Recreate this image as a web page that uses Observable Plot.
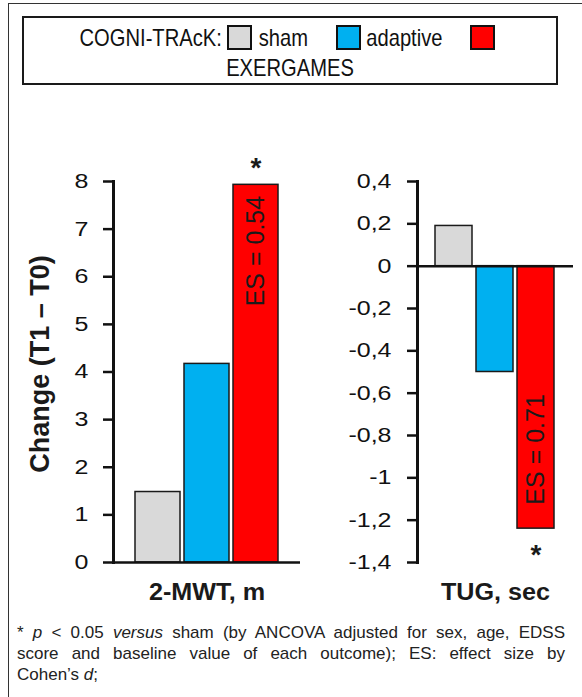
<!DOCTYPE html>
<html>
<head>
<meta charset="utf-8">
<script src="https://cdn.jsdelivr.net/npm/d3@7"></script>
<script src="https://cdn.jsdelivr.net/npm/@observablehq/plot@0.6"></script>
<style>
  html, body { margin: 0; padding: 0; background: #fff; }
  #page { position: relative; width: 582px; height: 697px; overflow: hidden; font-family: "Liberation Sans", Arial, sans-serif; color: #1a1a1a; }
  #frame { position: absolute; left: 8px; top: 3px; right: -4px; bottom: -4px; border-top: 1.5px solid #333; border-left: 1.5px solid #333; }
  #legend { position: absolute; left: 22px; top: 16px; width: 536px; height: 69px; box-sizing: border-box; border: 2px solid #1a1a1a; padding-top: 5px;
            font-family: "Liberation Sans", Arial, sans-serif; font-size: 24px; line-height: 30px; text-align: center; color: #111; white-space: nowrap; }
  #legend .t { display: inline-block; transform-origin: 50% 50%; }
  .sw { display: inline-block; width: 21px; height: 21px; border: 2px solid #111; vertical-align: -4px; }
  #p1 { position: absolute; left: 0; top: 140px; }
  #p2 { position: absolute; left: 300px; top: 140px; }
  #caption { position: absolute; left: 17px; top: 622px; width: 548px; font-size: 17px; line-height: 21px; color: #222; }
  #caption span { display: block; white-space: nowrap; text-align: justify; text-align-last: justify; }
  #caption span.last { text-align-last: left; }
  g[aria-label="x-axis label"] text { font-family: "Liberation Sans", Arial, sans-serif; font-weight: bold; font-size: 24px; fill: #1a1a1a; }
</style>
</head>
<body>
<div id="page">
  <div id="frame"></div>
  <div id="legend"></div>
  <div id="p1"></div>
  <div id="p2"></div>
  <div id="caption">
    <span>* <i>p</i> &lt; 0.05 <i>versus</i> sham (by ANCOVA adjusted for sex, age, EDSS</span>
    <span>score and baseline value of each outcome); ES: effect size by</span>
    <span class="last">Cohen’s <i>d</i>;</span>
  </div>
</div>
<script>
// ---- data ----
const groups = ["sham", "adaptive", "EXERGAMES"];
const groupColors = ["#d9d9d9", "#00b0f0", "#ff0000"];
const legendTitle = "COGNI-TRAcK:";
const mwtChange = [1.48, 4.17, 7.93];
const tugChange = [0.19, -0.50, -1.24];
const mwtTicks = [0, 1, 2, 3, 4, 5, 6, 7, 8];
const tugTicks = [0.4, 0.2, 0, -0.2, -0.4, -0.6, -0.8, -1, -1.2, -1.4];
const mwtES = "ES = 0.54";
const tugES = "ES = 0.71";
const sigMark = "*";
const yLabel = "Change (T1 – T0)";
const mwtLabel = "2-MWT, m";
const tugLabel = "TUG, sec";

// ---- legend ----
const legend = document.getElementById("legend");
let html = `<span class="t">${legendTitle}</span>`;
groups.forEach((g, i) => {
  html += `<span class="sw" style="background:${groupColors[i]};margin-left:${i === 0 ? 5 : 28}px;margin-right:${i === 0 ? 7 : 5}px"></span>`;
  html += (i === groups.length - 1) ? `<br><span class="t">${g}</span>` : `<span class="t">${g}</span>`;
});
legend.innerHTML = html;
const legendScale = 0.84;
legend.querySelectorAll(".t").forEach(el => {
  const w = el.getBoundingClientRect().width;
  el.style.transform = `scaleX(${legendScale})`;
  el.style.margin = `0 ${-w * (1 - legendScale) / 2}px`;
});

// horizontal stretch of SVG text around its own anchor
function stretch(svg, selector, s) {
  svg.querySelectorAll(selector).forEach(el => {
    const t = el.getAttribute("transform") || "";
    const x = el.getAttribute("x");
    const xn = (x && !/em/.test(x)) ? parseFloat(x) || 0 : 0;
    el.setAttribute("transform", `${t} translate(${xn},0) scale(${s},1) translate(${-xn},0)`);
  });
}

const mwtRows = groups.map((g, i) => ({group: g, value: mwtChange[i]}));
const tugRows = groups.map((g, i) => ({group: g, value: tugChange[i]}));
const commaFmt = d => String(+(+d).toFixed(1)).replace(".", ",");

const common = {
  height: 480, marginTop: 41, marginBottom: 58,
  style: {fontFamily: "Liberation Sans, Arial, sans-serif", color: "#111", background: "transparent", overflow: "visible"},
  color: {domain: groups, range: groupColors}
};

const p1 = Plot.plot({
  ...common,
  width: 300, marginLeft: 113, marginRight: 0,
  x: {domain: groups, paddingInner: 0.082, paddingOuter: 0.449, axis: null},
  y: {domain: [0, 8], axis: null},
  marks: [
    Plot.barY(mwtRows, {x: "group", y: "value", fill: "group", stroke: "#1a1a1a", strokeWidth: 1.5}),
    Plot.ruleY([0], {stroke: "#111", strokeWidth: 2.5}),
    Plot.frame({anchor: "left", stroke: "#111", strokeWidth: 3}),
    Plot.axisY(mwtTicks, {tickSize: 10, tickPadding: 15, fontSize: 20, strokeWidth: 2.5, label: null}),
    Plot.text([yLabel], {frameAnchor: "left", text: d => d, rotate: -90, textAnchor: "middle", dx: -73, dy: -8, fontSize: 27, fontWeight: "bold", fill: "#1a1a1a", ariaLabel: "y-axis label"}),
    Plot.axisX({ticks: [], tickSize: 0, label: mwtLabel, labelAnchor: "center", labelArrow: "none", labelOffset: 37}),
    Plot.text([mwtRows[2]], {x: "group", y: "value", text: () => mwtES, rotate: -90, textAnchor: "end", dy: 11, fontSize: 25, fill: "#1a1a1a", ariaLabel: "effect size"}),
    Plot.text([mwtRows[2]], {x: "group", y: "value", text: () => sigMark, dy: -17, fontSize: 28, fontWeight: "bold", fill: "#1a1a1a"})
  ]
});
stretch(p1, 'g[aria-label="y-axis tick label"] text', 1.25);
stretch(p1, 'g[aria-label="effect size"] text', 0.9);
stretch(p1, 'g[aria-label="x-axis label"] text', 1.05);
document.getElementById("p1").appendChild(p1);

const p2 = Plot.plot({
  ...common,
  width: 282, marginLeft: 117, marginRight: 9,
  x: {domain: groups, paddingInner: 0.095, paddingOuter: 0.405, axis: null},
  y: {domain: [-1.4, 0.4], axis: null},
  marks: [
    Plot.barY(tugRows, {x: "group", y: "value", fill: "group", stroke: "#1a1a1a", strokeWidth: 1.5}),
    Plot.ruleY([0], {stroke: "#111", strokeWidth: 2.5}),
    Plot.frame({anchor: "left", stroke: "#111", strokeWidth: 3}),
    Plot.axisY(tugTicks, {tickSize: 10, tickPadding: 16, fontSize: 20, strokeWidth: 2.5, tickFormat: commaFmt, label: null}),
    Plot.axisX({ticks: [], tickSize: 0, label: tugLabel, labelAnchor: "center", labelArrow: "none", labelOffset: 37}),
    Plot.text([tugRows[2]], {x: "group", y: "value", text: () => tugES, rotate: -90, textAnchor: "start", dy: -24, fontSize: 25, fill: "#1a1a1a", ariaLabel: "effect size"}),
    Plot.text([tugRows[2]], {x: "group", y: "value", text: () => sigMark, dy: 26, fontSize: 28, fontWeight: "bold", fill: "#1a1a1a"})
  ]
});
stretch(p2, 'g[aria-label="y-axis tick label"] text', 1.25);
stretch(p2, 'g[aria-label="effect size"] text', 0.9);
stretch(p2, 'g[aria-label="x-axis label"] text', 1.05);
document.getElementById("p2").appendChild(p2);
</script>
</body>
</html>
